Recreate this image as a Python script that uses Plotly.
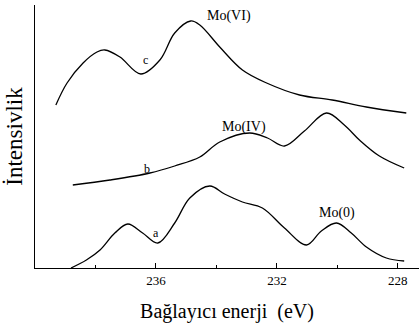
import plotly.graph_objects as go

# Binding energy (eV) and intensity (arb. units) for the three spectra
energy_a = [238.81, 238.3, 237.85, 237.36, 236.93, 236.44, 235.94, 235.38, 234.88, 234.22,
            233.73, 233.14, 232.48, 231.75, 231.02, 230.53, 230.03, 229.54, 229.04, 228.38, 227.79]
intensity_a = [0, 8, 18, 35, 44, 35, 25, 45, 70, 82,
               74, 66, 60, 40, 23, 37, 45, 35, 21, 10, 7]

energy_b = [238.75, 237.52, 236.20, 235.38, 234.55, 233.89, 232.90, 232.31, 231.75, 231.09,
            230.36, 229.77, 229.27, 228.61, 227.79]
intensity_b = [83, 88, 95, 102, 111, 126, 135, 130, 122, 137,
               155, 143, 128, 112, 100]

energy_c = [239.31, 238.94, 238.41, 237.95, 237.69, 237.19, 236.50, 235.87, 235.38, 234.85,
            234.55, 233.89, 233.14, 232.34, 231.25, 230.17, 229.04, 227.72]
intensity_c = [163, 185, 205, 216, 218, 211, 194, 208, 235, 247,
               243, 221, 198, 185, 173, 168, 161, 155]

tick_values = [236, 232, 228]
minor_tick_values = [238, 234, 230]

# Text annotations: (energy, intensity, text, size)
labels = [
    (233.6, 252, "Mo(VI)", 14),
    (236.35, 208, "c", 12),
    (233.1, 141, "Mo(IV)", 14),
    (236.3, 99, "b", 12),
    (236.0, 35, "a", 12),
    (230.0, 55, "Mo(0)", 14),
]

font_family = "Times New Roman, Liberation Serif, serif"

fig = go.Figure()
for xs, ys in [(energy_a, intensity_a), (energy_b, intensity_b), (energy_c, intensity_c)]:
    fig.add_trace(go.Scatter(
        x=xs, y=ys, mode="lines",
        line=dict(color="black", width=1.3, shape="spline", smoothing=1.0),
        showlegend=False, hoverinfo="skip",
    ))

for x, y, t, s in labels:
    fig.add_annotation(x=x, y=y, text=t, showarrow=False,
                       font=dict(family=font_family, size=s, color="black"))

fig.update_layout(
    width=419, height=325,
    margin=dict(l=35, r=0, t=5, b=57),
    paper_bgcolor="white", plot_bgcolor="white",
    font=dict(family=font_family, color="black"),
    xaxis=dict(
        range=[240.0, 227.3],
        showline=True, linecolor="black", linewidth=1.2,
        showgrid=False, zeroline=False,
        ticks="inside", ticklen=5, tickwidth=1, tickcolor="black",
        tickmode="array", tickvals=tick_values, ticktext=[str(v) for v in tick_values],
        tickfont=dict(family=font_family, size=13, color="black"),
        minor=dict(ticks="inside", ticklen=3, tickwidth=1, tickcolor="black",
                   tickmode="array", tickvals=minor_tick_values, showgrid=False),
        title=dict(text="Bağlayıcı enerji\u00a0 (eV)",
                   font=dict(family=font_family, size=20, color="black"), standoff=17),
    ),
    yaxis=dict(
        range=[0, 263],
        showline=True, linecolor="black", linewidth=1.2,
        showgrid=False, zeroline=False,
        showticklabels=False, ticks="",
        title=dict(text="İntensivlik", font=dict(family=font_family, size=23, color="black"), standoff=4),
    ),
)

fig.write_html("out.html")
